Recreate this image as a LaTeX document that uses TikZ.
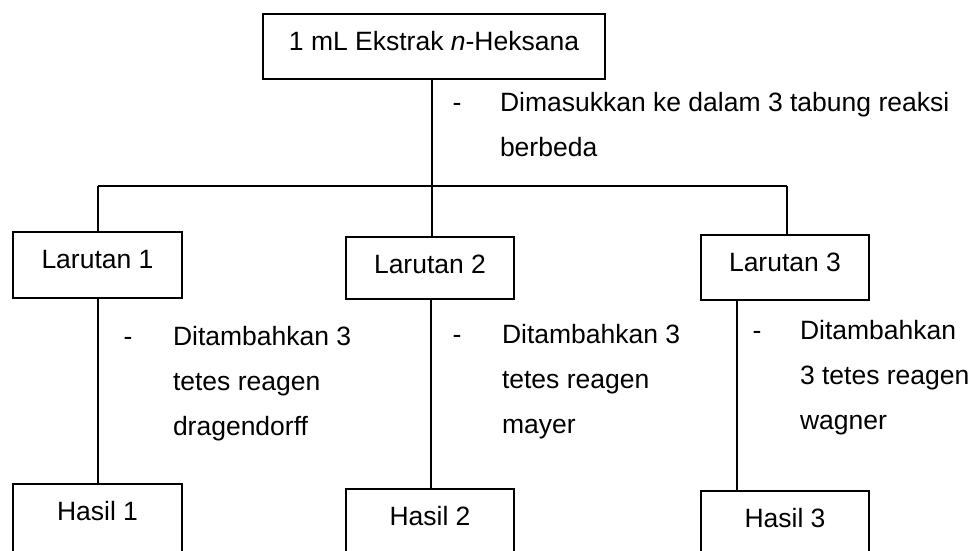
\documentclass[tikz,border=0pt]{standalone}
\usepackage{fontspec}
\setmainfont{Liberation Sans}
\begin{document}
\begin{tikzpicture}[x=1pt,y=-1pt,
  every node/.style={inner sep=0pt, outer sep=0pt},
  txt/.style={font=\fontsize{26.5}{45}\selectfont},
  box/.style={draw, line width=1.1pt, txt, anchor=north west, text height=36pt, align=center},
  note/.style={txt, anchor=base west, align=left},
  dashmark/.style={txt, anchor=base},
  conn/.style={line width=1.1pt}
]
\useasboundingbox (0,0) rectangle (973,550);
\clip (0,0) rectangle (973,550);
% boxes
\node[box, minimum width=342pt, text depth=29pt] (top) at (263,14) {1 mL Ekstrak \textit{n}-Heksana};
\node[box, minimum width=169pt, text depth=30pt] (lar1) at (13,232) {Larutan 1};
\node[box, minimum width=168pt, text depth=26pt] (lar2) at (346,237) {Larutan 2};
\node[box, minimum width=168pt, text depth=29pt] (lar3) at (701,235) {Larutan 3};
\node[box, minimum width=169pt, text depth=40pt] (has1) at (13,484) {Hasil 1};
\node[box, minimum width=168pt, text depth=40pt] (has2) at (346,489) {Hasil 2};
\node[box, minimum width=168pt, text depth=40pt] (has3) at (701,491) {Hasil 3};
% notes (base anchor = baseline of last line)
\node[dashmark] (d0) at (457,111) {-};
\node[note] (n0) at (500,156) {Dimasukkan ke dalam 3 tabung reaksi\\berbeda};
\node[dashmark] (d1) at (128,345) {-};
\node[note] (n1) at (173,435) {Ditambahkan 3\\tetes reagen\\dragendorff};
\node[dashmark] (d2) at (457,343) {-};
\node[note] (n2) at (502,433) {Ditambahkan 3\\tetes reagen\\mayer};
\node[dashmark] (d3) at (757,339) {-};
\node[note] (n3) at (800,429) {Ditambahkan\\3 tetes reagen\\wagner};
% connectors
\coordinate (jm) at (432,186);
\coordinate (jl) at (98,186);
\coordinate (jr) at (787,186);
\coordinate (c1) at (98,300);
\coordinate (c2) at (431,300);
\coordinate (c3) at (737,300);
\draw[conn] (top.south -| jm) -- (lar2.north -| jm);
\draw[conn] (jl) -- (jr);
\draw[conn] (jl) -- (lar1.north -| jl);
\draw[conn] (jr) -- (lar3.north -| jr);
\draw[conn] (lar1.south -| c1) -- (has1.north -| c1);
\draw[conn] (lar2.south -| c2) -- (has2.north -| c2);
\draw[conn] (lar3.south -| c3) -- (has3.north -| c3);
\end{tikzpicture}
\end{document}
